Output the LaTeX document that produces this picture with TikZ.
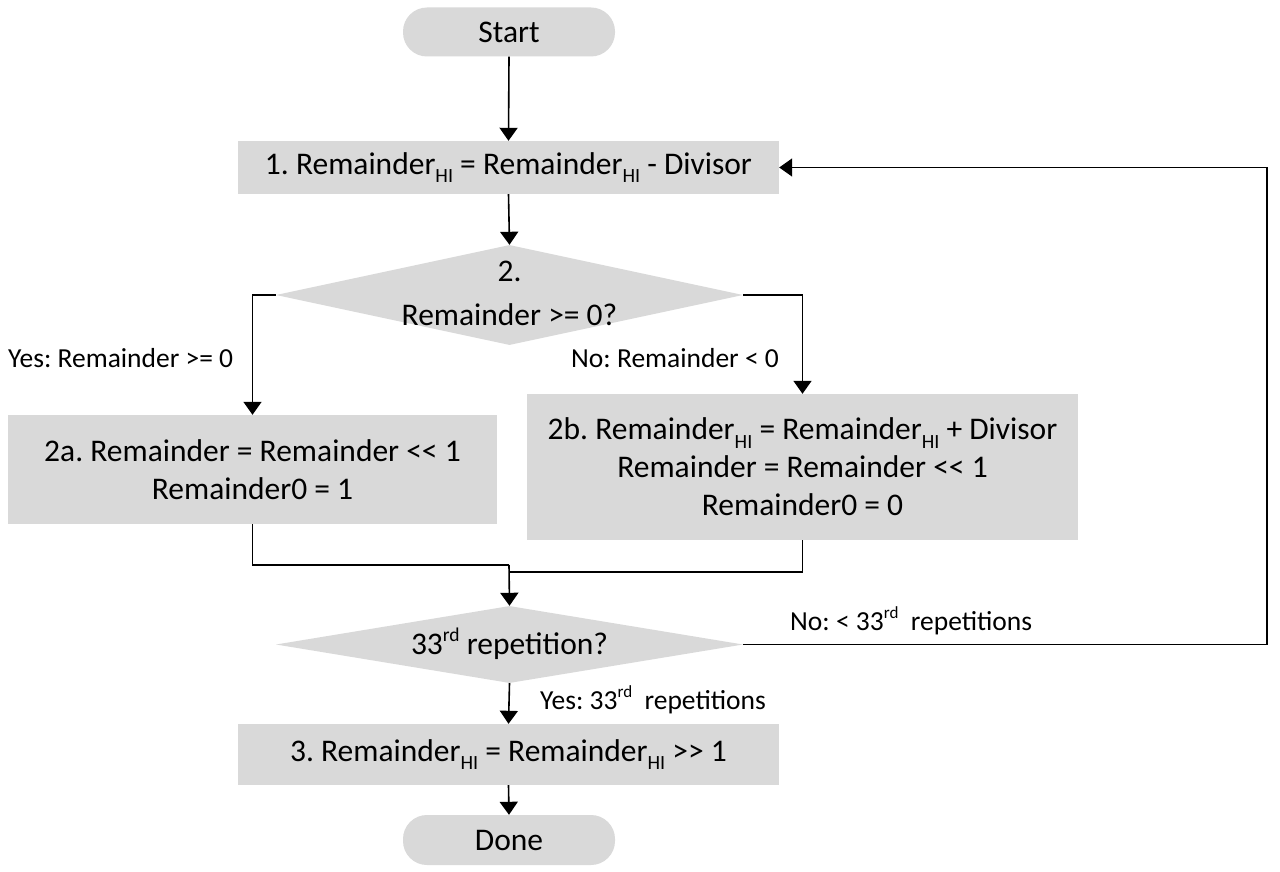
\documentclass[tikz,border=0pt]{standalone}
\usepackage{fontspec}
\setmainfont{Carlito}
\usetikzlibrary{shapes.geometric,arrows.meta}
\definecolor{boxgray}{HTML}{D9D9D9}
\newcommand{\lowtxt}[1]{\raisebox{-0.28em}{\scalebox{0.64}{#1}}}
\newcommand{\uptxt}[1]{\raisebox{0.42em}{\scalebox{0.62}{#1}}}
\frenchspacing
\begin{document}
\begin{tikzpicture}[x=1pt,y=-1pt,
  every node/.style={font=\fontsize{31.5}{38}\selectfont, inner sep=0pt, align=center},
  procbox/.style={rectangle, fill=boxgray},
  pill/.style={rectangle, fill=boxgray, rounded corners=24pt},
  decision/.style={diamond, fill=boxgray},
  lbl/.style={font=\fontsize{27.5}{32}\selectfont, anchor=west},
  conn/.style={line width=1.6pt, draw=black},
  arr/.style={conn, -{Triangle[width=18pt,length=13pt]}}]
\useasboundingbox (0,0) rectangle (1280,872);
\fill[white] (0,0) rectangle (1280,872);

\node[pill, minimum width=212pt, minimum height=49pt] (start) at (509,32) {Start};
\node[procbox, minimum width=541pt, minimum height=53pt] (b1) at (508.5,167.5)
  {1. Remainder\lowtxt{HI} = Remainder\lowtxt{HI} - Divisor};
\node[decision, minimum width=467pt, minimum height=100pt] (d2) at (509.5,295) {};
\node[font=\fontsize{31.5}{44}\selectfont] (d2t) at (509.5,293) {2.\\Remainder >= 0?};
\node[procbox, minimum width=489pt, minimum height=109pt] (b2a) at (252.5,469.5)
  {2a. Remainder = Remainder <{}< 1\\Remainder0 = 1};
\node[procbox, minimum width=551pt, minimum height=146pt] (b2b) at (802.5,467)
  {2b. Remainder\lowtxt{HI} = Remainder\lowtxt{HI} + Divisor\\Remainder = Remainder <{}< 1\\Remainder0 = 0};
\node[decision, minimum width=467pt, minimum height=77pt] (d3) at (509.5,644.5) {};
\node (d3t) at (509.5,644) {33\uptxt{rd} repetition?};
\node[procbox, minimum width=541pt, minimum height=61pt] (b3) at (508.5,754.5)
  {3. Remainder\lowtxt{HI} = Remainder\lowtxt{HI} >{}> 1};
\node[pill, minimum width=212pt, minimum height=50pt] (done) at (509,840) {Done};

\node[lbl] (l1) at (8,358) {Yes: Remainder >= 0};
\node[lbl] (l2) at (571,358) {No: Remainder < 0};
\node[lbl] (l3) at (790,621) {No: < 33\uptxt{rd}\ \ repetitions};
\node[lbl] (l4) at (540,700) {Yes: 33\uptxt{rd}\ \ repetitions};

\coordinate (j1) at (509,565);
\coordinate (j2) at (509,572);
\coordinate (r) at (1267,400);

\draw[arr] (start.south) -- (b1.north);
\draw[arr] (b1.south) -- (d2.north);
\draw[arr] (d2.west) -| (b2a.north);
\draw[arr] (d2.east) -| (b2b.north);
\draw[conn] (b2a.south) |- (j1);
\draw[conn] (b2b.south) |- (j2);
\draw[arr] (j1) -- (d3.north);
\draw[arr] (d3.east) -- (d3.east -| r) |- (b1.east);
\draw[arr] (d3.south) -- (b3.north);
\draw[arr] (b3.south) -- (done.north);
\end{tikzpicture}
\end{document}
